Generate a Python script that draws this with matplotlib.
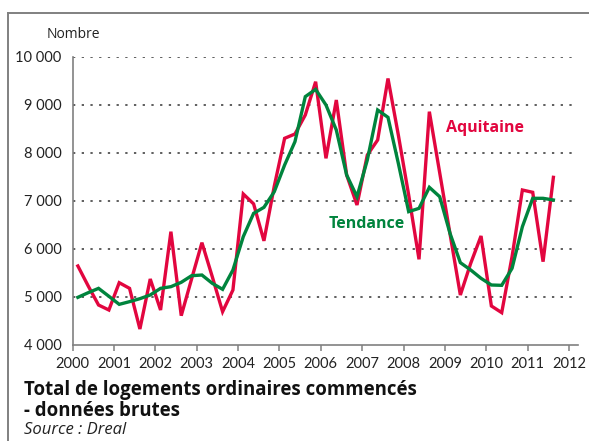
import numpy as np
import matplotlib
matplotlib.use("Agg")
import matplotlib.pyplot as plt
from matplotlib.lines import Line2D

plt.rcParams['font.family'] = ['Lato', 'DejaVu Sans']
wide = ['Open Sans', 'DejaVu Sans']

# quarterly values, 2000 Q1 .. 2011 Q3
aquitaine = [5646, 5230, 4833, 4729, 5298, 5180, 4333, 5375, 4729, 6361,
             4611, 5375, 6132, 5424, 4694, 5146, 7146, 6940, 6170, 7310,
             8306, 8396, 8792, 9485, 7889, 9104, 7542, 6917, 7958, 8271,
             9552, 8375, 7125, 5785, 8861, 7590, 6315, 5042, 5701, 6271,
             4813, 4674, 5840, 7229, 7181, 5736, 7493]
tendance = [4993, 5090, 5180, 5015, 4847, 4903, 4965, 5042, 5180, 5215,
            5306, 5444, 5458, 5285, 5160, 5563, 6257, 6743, 6868, 7194,
            7750, 8236, 9174, 9326, 9000, 8479, 7542, 7090, 7854, 8896,
            8743, 7785, 6778, 6847, 7285, 7090, 6326, 5715, 5563, 5389,
            5250, 5243, 5597, 6465, 7056, 7056, 7021]
years = list(range(2000, 2013))
yticks = [4000, 5000, 6000, 7000, 8000, 9000, 10000]

x = 2000 + (np.arange(len(aquitaine)) + 0.5) / 4

red = '#e2063f'
green = '#00843d'
gray = '#808080'

fig = plt.figure(figsize=(5.89, 4.41), dpi=100)
ax = fig.add_axes([72.7 / 589, 1 - 345 / 441, (578 - 72.7) / 589, (345 - 57) / 441])

# frame around the figure (top and left only)
fig.add_artist(Line2D([8.3 / 589, 1.0], [1 - 13.3 / 441] * 2, color=gray, lw=1.4,
                      transform=fig.transFigure))
fig.add_artist(Line2D([8.3 / 589] * 2, [0, 1 - 13.3 / 441], color=gray, lw=1.4,
                      transform=fig.transFigure))

for v in yticks[1:]:
    ax.axhline(v, color='#333333', lw=1.1, ls=(0, (1.5, 4.2)), zorder=1)

ax.plot(x, aquitaine, color=red, lw=2.4, zorder=3, solid_joinstyle='miter')
ax.plot(x, tendance, color=green, lw=2.4, zorder=4, solid_joinstyle='miter')

ax.set_xlim(2000, 2012.22)
ax.set_ylim(4000, 10000)
ax.set_xticks(years)
ax.set_xticklabels([str(y) for y in years])
ax.set_yticks(yticks)
ax.set_yticklabels([f"{v:,}".replace(",", " ") for v in yticks])

for s in ['top', 'right']:
    ax.spines[s].set_visible(False)
for s in ['left', 'bottom']:
    ax.spines[s].set_color(gray)
    ax.spines[s].set_linewidth(1.2)
ax.tick_params(axis='x', direction='out', length=4.5, width=1.1, color=gray,
               labelsize=10.5, pad=4, labelcolor='#222222')
ax.tick_params(axis='y', length=0, labelsize=10.5, pad=8, labelcolor='#222222')

ax.text(2009.98, 8521, 'Aquitaine', color=red, fontsize=11.5, fontweight='bold',
        family=wide, ha='center', va='center')
ax.text(2007.12, 6521, 'Tendance', color=green, fontsize=11.5, fontweight='bold',
        family=wide, ha='center', va='center')

fig.text(47 / 589, 1 - 34 / 441, 'Nombre', fontsize=10, color='#222222',
         family=wide, va='center')
fig.text(24 / 589, 1 - 390 / 441, 'Total de logements ordinaires commencés',
         fontsize=13.4, fontweight='bold', color='#111111', family=wide, va='center')
fig.text(24 / 589, 1 - 411 / 441, '- données brutes',
         fontsize=13.4, fontweight='bold', color='#111111', family=wide, va='center')
fig.text(24 / 589, 1 - 430 / 441, 'Source : Dreal', fontsize=12, style='italic',
         color='#222222', family=wide, va='center')

fig.savefig('out.png', dpi=100)
